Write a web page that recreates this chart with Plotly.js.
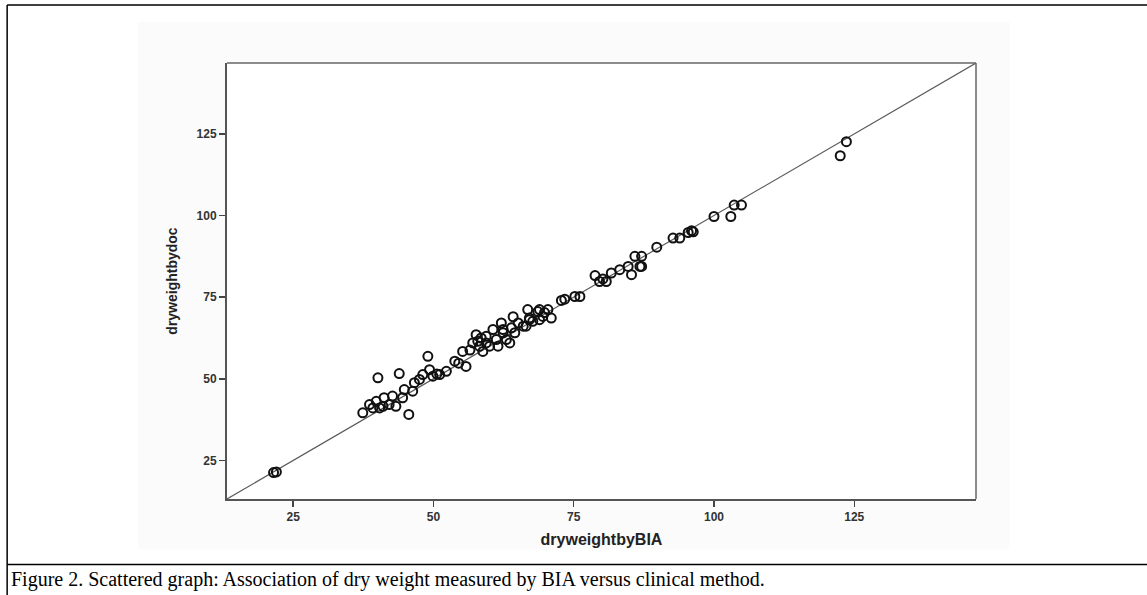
<!DOCTYPE html>
<html>
<head>
<meta charset="utf-8">
<script src="https://cdn.plot.ly/plotly-3.0.1.min.js"></script>
<style>
  html, body { margin: 0; padding: 0; background: #ffffff; }
  #chart { width: 1147px; height: 595px; }
</style>
</head>
<body>
<div id="chart"></div>
<script>
// Dry weight by BIA (x) vs dry weight by clinical method / doctor (y)
const dryweightByBIA = [
  21.5, 22.0,
  123.6, 122.5,
  103.6, 104.9, 103.0, 100.0, 96.0, 95.4, 96.3, 92.7, 93.9, 89.8,
  87.1, 87.1, 85.9, 85.3, 86.8, 84.7, 83.2, 81.7, 80.2, 78.8, 80.8, 79.6,
  76.1, 75.2, 73.4, 72.8, 69.8, 71.0, 68.9,
  70.4, 69.5, 68.6, 66.8, 67.7, 64.2, 62.1, 66.0, 64.5, 60.6, 63.0, 61.2,
  59.4, 57.6, 57.0, 58.8, 61.5, 63.6, 58.2, 59.4, 62.4, 63.9, 67.1, 68.9, 66.5,
  57.9, 58.5, 60.0, 62.4, 65.1, 67.1,
  55.2, 53.8, 55.8, 54.5, 49.0, 52.3, 51.1, 49.9, 48.1, 49.3, 47.5, 46.6,
  46.3, 44.8, 43.9, 40.1, 45.6, 44.5, 42.7, 41.2, 42.1, 41.0, 39.8, 39.2,
  38.6, 37.4, 40.4, 43.3, 50.6, 56.5
];
const dryweightByDoc = [
  21.3, 21.5,
  122.6, 118.3,
  103.2, 103.2, 99.7, 99.7, 95.3, 94.8, 95.0, 93.1, 93.1, 90.3,
  87.5, 84.4, 87.5, 81.9, 84.4, 84.4, 83.4, 82.4, 80.6, 81.6, 79.8, 79.8,
  75.2, 75.2, 74.4, 74.0, 70.3, 68.6, 71.2,
  71.2, 69.1, 70.6, 71.2, 67.6, 69.0, 67.1, 66.1, 64.1, 65.1, 62.0, 62.0,
  61.0, 63.5, 61.0, 58.4, 60.0, 61.0, 60.0, 63.0, 64.1, 65.6, 68.6, 68.1, 66.1,
  61.5, 62.5, 60.0, 65.1, 67.1, 68.1,
  58.4, 55.4, 53.8, 54.8, 56.9, 52.3, 51.3, 50.8, 51.3, 52.8, 49.8, 48.8,
  46.2, 46.7, 51.6, 50.3, 39.1, 44.2, 44.7, 44.2, 42.1, 41.6, 43.1, 41.1,
  42.1, 39.6, 41.1, 41.6, 51.5, 58.8
];
// Reference line of identity (y = x) spanning the axis range
const axisRange = [13.2, 146.7];
const identityLine = axisRange.slice();
const tickValues = [25, 50, 75, 100, 125];
const tickLabels = ['25', '50', '75', '100', '125'];
const xTitle = 'dryweightbyBIA';
const yTitle = 'dryweightbydoc';
const caption = 'Figure 2. Scattered graph: Association of dry weight measured by BIA versus clinical method.';

const W = 1147, H = 595;
const plotL = 227, plotR = 976.5, plotT = 63, plotB = 499.5;

const traces = [
  {
    x: identityLine, y: identityLine, type: 'scatter', mode: 'lines',
    line: { color: '#5a5a5a', width: 1.2 }, hoverinfo: 'skip', showlegend: false
  },
  {
    x: dryweightByBIA, y: dryweightByDoc, type: 'scatter', mode: 'markers',
    marker: { symbol: 'circle-open', size: 9, color: '#111111', line: { width: 2, color: '#111111' } },
    showlegend: false
  }
];

const axisFont = { family: 'Arial, Liberation Sans, sans-serif', size: 12, color: '#333333', weight: 'bold' };

const layout = {
  width: W, height: H,
  margin: { l: plotL, r: W - plotR, t: plotT, b: H - plotB, pad: 0 },
  paper_bgcolor: '#ffffff', plot_bgcolor: '#ffffff',
  showlegend: false,
  xaxis: {
    range: axisRange, tickmode: 'array', tickvals: tickValues, ticktext: tickLabels,
    ticks: 'outside', ticklen: 6, tickwidth: 1.5, tickcolor: '#444444',
    showgrid: false, zeroline: false, showline: true, linecolor: '#555555', linewidth: 2,
    tickfont: axisFont,
    title: { text: xTitle, standoff: 10, font: { family: 'Arial, Liberation Sans, sans-serif', size: 16, color: '#222222', weight: 'bold' } }
  },
  yaxis: {
    range: axisRange, tickmode: 'array', tickvals: tickValues, ticktext: tickLabels,
    ticks: 'outside', ticklen: 6, tickwidth: 1.5, tickcolor: '#444444',
    showgrid: false, zeroline: false, showline: true, linecolor: '#555555', linewidth: 2,
    tickfont: axisFont,
    title: { text: yTitle, standoff: 16, font: { family: 'Arial, Liberation Sans, sans-serif', size: 14, color: '#222222', weight: 'bold' } }
  },
  shapes: [
    // faint background of the embedded figure image
    { type: 'rect', xref: 'paper', yref: 'paper', layer: 'below',
      x0: (138 - plotL) / (plotR - plotL), x1: (1010 - plotL) / (plotR - plotL),
      y0: (plotB - 550) / (plotB - plotT), y1: (plotB - 22) / (plotB - plotT),
      line: { width: 0 }, fillcolor: '#fbfbfb' },
    { type: 'rect', xref: 'paper', yref: 'paper', layer: 'below',
      x0: 0, x1: 1, y0: 0, y1: 1, line: { width: 0 }, fillcolor: '#ffffff' },
    // top and right frame of the plot box
    { type: 'line', xref: 'paper', yref: 'paper', x0: 0, x1: 1, y0: 1, y1: 1, line: { color: '#666666', width: 1.5 } },
    { type: 'line', xref: 'paper', yref: 'paper', x0: 1, x1: 1, y0: 0, y1: 1, line: { color: '#666666', width: 1.5 } },
    // table cell borders around the figure
    { type: 'line', xref: 'paper', yref: 'paper',
      x0: (7 - plotL) / (plotR - plotL), x1: (1150 - plotL) / (plotR - plotL),
      y0: (plotB - 5) / (plotB - plotT), y1: (plotB - 5) / (plotB - plotT),
      line: { color: '#000000', width: 1.5 } },
    { type: 'line', xref: 'paper', yref: 'paper',
      x0: (7 - plotL) / (plotR - plotL), x1: (7 - plotL) / (plotR - plotL),
      y0: (plotB - 5) / (plotB - plotT), y1: (plotB - 600) / (plotB - plotT),
      line: { color: '#000000', width: 1.5 } },
    { type: 'line', xref: 'paper', yref: 'paper',
      x0: (7 - plotL) / (plotR - plotL), x1: (1150 - plotL) / (plotR - plotL),
      y0: (plotB - 565) / (plotB - plotT), y1: (plotB - 565) / (plotB - plotT),
      line: { color: '#000000', width: 1.5 } }
  ],
  annotations: [
    { text: caption, xref: 'paper', yref: 'paper', showarrow: false,
      x: (9 - plotL) / (plotR - plotL), xanchor: 'left',
      y: (plotB - 580) / (plotB - plotT), yanchor: 'middle',
      font: { family: 'Liberation Serif, Times New Roman, serif', size: 20, color: '#000000' } }
  ]
};

Plotly.newPlot('chart', traces, layout, { displayModeBar: false, staticPlot: true });
</script>
</body>
</html>
